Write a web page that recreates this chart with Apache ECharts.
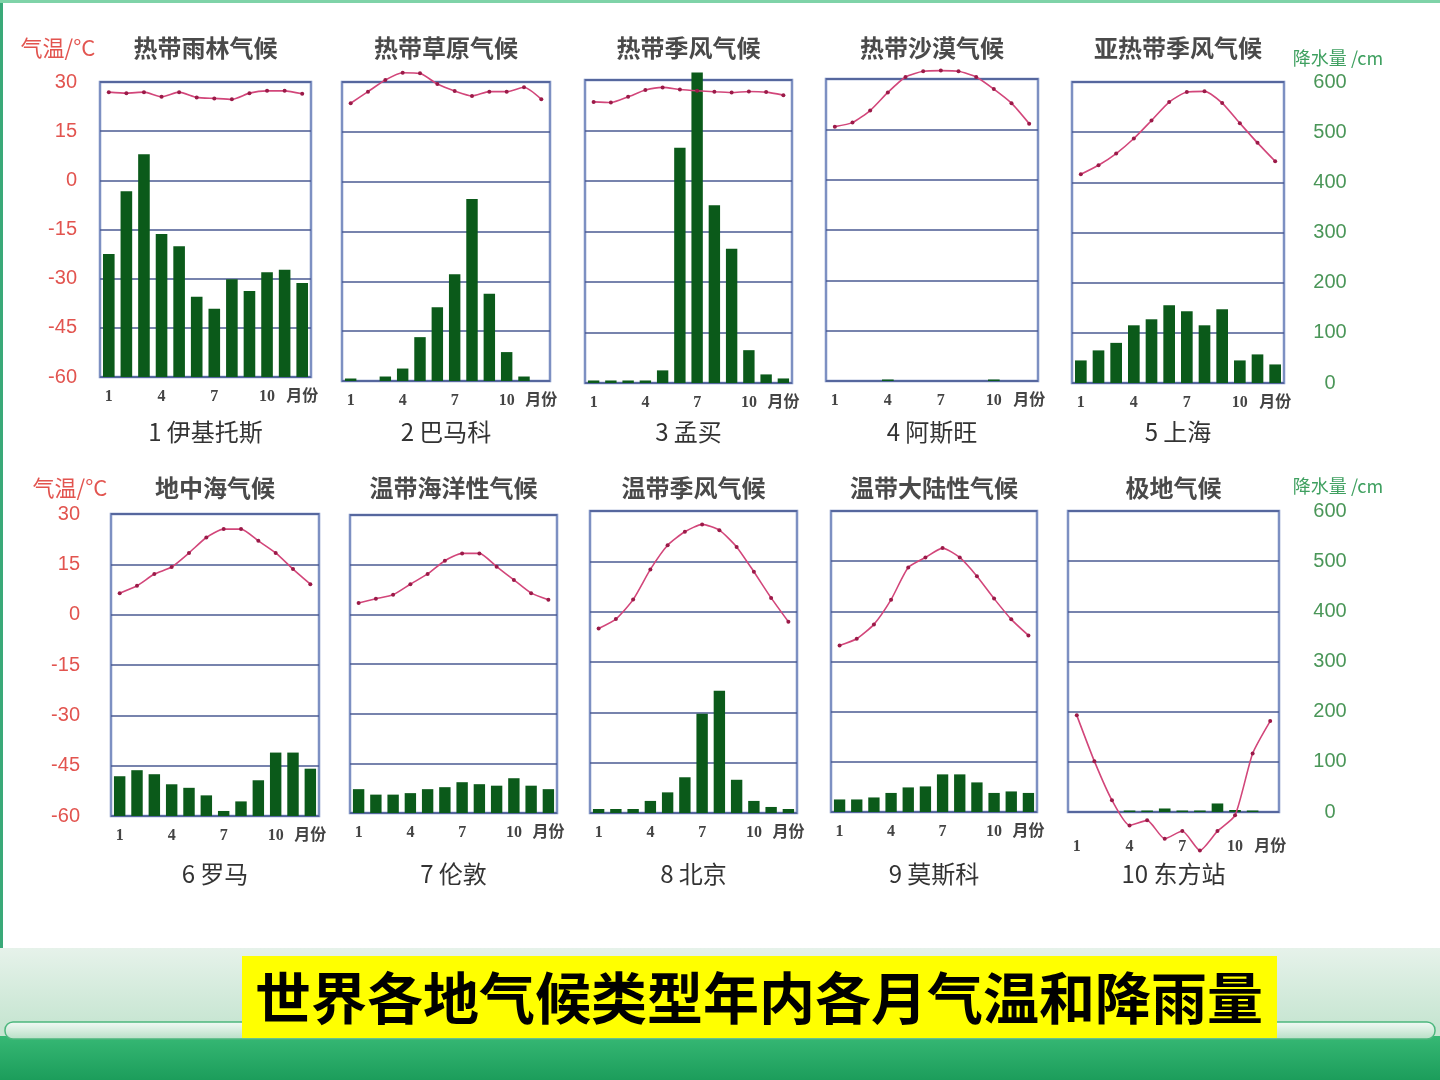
<!DOCTYPE html>
<html>
<head>
<meta charset="utf-8">
<script src="https://cdn.jsdelivr.net/npm/echarts@6/dist/echarts.min.js"></script>
<style>
  html, body { margin: 0; padding: 0; background: #fff; }
  #main { width: 1440px; height: 1080px; }
</style>
</head>
<body>
<div id="main"></div>
<script>
// 月份刻度
const months = ['1', '', '', '4', '', '', '7', '', '', '10', '', '月份'];

const climateTypes = ['热带雨林气候', '热带草原气候', '热带季风气候', '热带沙漠气候', '亚热带季风气候',
  '地中海气候', '温带海洋性气候', '温带季风气候', '温带大陆性气候', '极地气候'];
const stations = ['1 伊基托斯', '2 巴马科', '3 孟买', '4 阿斯旺', '5 上海',
  '6 罗马', '7 伦敦', '8 北京', '9 莫斯科', '10 东方站'];

// 气温 °C
const iquitosTemp = [26.9, 26.6, 26.9, 25.5, 26.9, 25.3, 25.0, 24.7, 26.6, 27.3, 27.3, 26.4];
const bamakoTemp = [23.6, 27.1, 30.6, 32.8, 32.6, 29.4, 27.3, 25.8, 27.1, 27.1, 28.4, 24.8];
const mumbaiTemp = [23.5, 23.3, 25.0, 27.0, 27.8, 27.2, 26.8, 26.5, 26.3, 26.6, 26.4, 25.5];
const aswanTemp = [15.8, 17.0, 20.6, 26.0, 30.6, 32.3, 32.5, 32.3, 30.6, 27.0, 22.8, 16.7];
const shanghaiTemp = [2.4, 5.1, 8.6, 13.1, 18.5, 24.0, 27.0, 27.2, 23.7, 17.7, 11.8, 6.3];
const romeTemp = [6.4, 8.6, 12.1, 14.2, 18.4, 23.0, 25.5, 25.5, 22.0, 18.4, 13.6, 9.1];
const londonTemp = [3.4, 4.7, 5.9, 9.1, 12.2, 16.2, 18.4, 18.4, 14.4, 10.4, 6.4, 4.4];
const beijingTemp = [-5.0, -2.2, 3.6, 12.6, 19.8, 23.8, 26.0, 24.3, 19.3, 11.9, 4.1, -3.0];
const moscowTemp = [-10.2, -8.2, -3.9, 3.5, 13.1, 16.1, 18.9, 16.1, 10.5, 3.8, -2.4, -7.2];
const vostokTemp = [-31.1, -44.8, -56.5, -64.0, -62.5, -68.0, -65.7, -71.5, -65.7, -61.0, -42.5, -32.8];

// 降水量
const iquitosRain = [250, 378, 453, 291, 266, 163, 139, 199, 175, 213, 218, 191];
const bamakoRain = [5, 0, 9, 25, 88, 148, 214, 365, 175, 58, 9, 0];
const mumbaiRain = [5, 5, 5, 5, 25, 466, 615, 352, 266, 65, 17, 9];
const aswanRain = [0, 0, 0, 3, 0, 0, 0, 0, 0, 3, 0, 0];
const shanghaiRain = [45, 65, 80, 115, 127, 155, 143, 115, 147, 45, 57, 37];
const romeRain = [79, 91, 83, 63, 56, 41, 10, 29, 71, 126, 126, 94];
const londonRain = [48, 37, 37, 40, 48, 52, 62, 58, 55, 70, 55, 48];
const beijingRain = [8, 8, 8, 24, 41, 71, 197, 243, 66, 24, 12, 8];
const moscowRain = [25, 25, 29, 38, 49, 51, 75, 75, 59, 38, 41, 38];
const vostokRain = [0, 0, 0, 3, 3, 7, 3, 3, 17, 4, 3, 0];

const temps = [iquitosTemp, bamakoTemp, mumbaiTemp, aswanTemp, shanghaiTemp,
  romeTemp, londonTemp, beijingTemp, moscowTemp, vostokTemp];
const rains = [iquitosRain, bamakoRain, mumbaiRain, aswanRain, shanghaiRain,
  romeRain, londonRain, beijingRain, moscowRain, vostokRain];

// 每个小图的位置 [left, top, width, height]
const boxes = [
  [100, 82, 211, 295], [342, 82, 208, 299], [585, 80, 207, 303], [826, 79, 212, 302], [1072, 82, 212, 301],
  [111, 514, 208, 302], [350, 515, 207, 298], [590, 511, 207, 302], [831, 511, 206, 301], [1068, 511, 211, 301]
];

const CJK = "'Noto Sans CJK SC', sans-serif";
const grid = [], xAxis = [], yAxis = [], series = [], graphic = [];

function txt(x, y, text, size, color, weight) {
  graphic.push({
    type: 'text', x: x, y: y, z: 10,
    style: {
      text: text, fill: color, fontSize: size, fontFamily: CJK, fontWeight: weight || 'normal',
      textAlign: 'center', textVerticalAlign: 'middle', align: 'center', verticalAlign: 'middle'
    }
  });
}

boxes.forEach(function (b, i) {
  grid.push({
    left: b[0], top: b[1], width: b[2], height: b[3], show: true,
    backgroundColor: '#fff', borderColor: '#7d90c2', borderWidth: 2.5, outerBoundsMode: 'none'
  });
  xAxis.push({
    type: 'category', gridIndex: i, data: months,
    axisLine: { show: false }, axisTick: { show: false },
    axisLabel: {
      interval: 0, margin: i === 9 ? 27 : 12, color: '#444', fontSize: 16, fontWeight: 'bold',
      fontFamily: "'Liberation Serif', 'Noto Sans CJK SC', serif"
    }
  });
  yAxis.push({
    type: 'value', gridIndex: i, min: -60, max: 30, interval: 15,
    axisLine: { show: false }, axisTick: { show: false },
    splitLine: { lineStyle: { color: '#4a5a92', width: 1.6 } },
    axisLabel: {
      show: i === 0 || i === 5, margin: i === 0 ? 23 : 31, color: '#e2544f', fontSize: 20,
      fontFamily: "'Liberation Sans', sans-serif"
    }
  });
  yAxis.push({
    type: 'value', gridIndex: i, position: 'right', min: 0, max: 600, interval: 100,
    axisLine: { show: false }, axisTick: { show: false }, splitLine: { show: false },
    axisLabel: {
      show: i === 4 || i === 9, margin: i === 4 ? 46 : 51, align: 'center', color: '#4a9658', fontSize: 20,
      padding: [10, 0, 0, 0], fontFamily: "'Liberation Sans', sans-serif"
    }
  });
  series.push({
    type: 'bar', xAxisIndex: i, yAxisIndex: 2 * i + 1, data: rains[i], barWidth: '66%', clip: false,
    itemStyle: { color: '#0b5a1a' }
  });
  series.push({
    type: 'line', xAxisIndex: i, yAxisIndex: 2 * i, data: temps[i], clip: false, smooth: 0.2,
    symbol: 'circle', symbolSize: 4, z: 5,
    lineStyle: { color: '#d2467a', width: 1.6 }, itemStyle: { color: '#9b1a48' }
  });

  const cx = b[0] + b[2] / 2;
  txt(cx, i < 5 ? 48 : 488, climateTypes[i], 24, '#4a4a4a', 'bold');
  txt(cx, i < 5 ? 432 : 874, stations[i], 24, '#333');
});

// 轴标题
txt(58, 48, '气温/°C', 22, '#e2544f');
txt(70, 488, '气温/°C', 22, '#e2544f');
txt(1338, 58, '降水量 /cm', 18, '#3fa060');
txt(1338, 486, '降水量 /cm', 18, '#3fa060');

// 边框和底部装饰
graphic.push(
  { type: 'rect', shape: { x: 0, y: 0, width: 3, height: 948 }, style: { fill: '#3aa978' }, z: 1 },
  { type: 'rect', shape: { x: 0, y: 0, width: 1440, height: 3 }, style: { fill: '#7fd3a8' }, z: 1 },
  {
    type: 'rect', shape: { x: 0, y: 948, width: 1440, height: 132 }, z: 1,
    style: { fill: new echarts.graphic.LinearGradient(0, 0, 0, 1, [
      { offset: 0, color: '#e6f2ea' }, { offset: 0.6, color: '#c6e5d1' }, { offset: 1, color: '#c6e5d1' }]) }
  },
  {
    type: 'rect', shape: { x: 0, y: 1036, width: 1440, height: 44 }, z: 2,
    style: { fill: new echarts.graphic.LinearGradient(0, 0, 0, 1, [
      { offset: 0, color: '#36b874' }, { offset: 1, color: '#1c9d5b' }]) }
  },
  {
    type: 'rect', shape: { x: 5, y: 1022, width: 1430, height: 17, r: 8 }, z: 3,
    style: {
      fill: new echarts.graphic.LinearGradient(0, 0, 0, 1, [
        { offset: 0, color: '#f4fbf7' }, { offset: 1, color: '#b6dec5' }]),
      stroke: '#4cb77e', lineWidth: 1.5
    }
  },
  { type: 'rect', shape: { x: 242, y: 956, width: 1035, height: 82 }, style: { fill: '#ffff00' }, z: 4 }
);
txt(759, 998, '世界各地气候类型年内各月气温和降雨量', 56, '#000', 'bold');

const chart = echarts.init(document.getElementById('main'), null, { renderer: 'canvas' });
chart.setOption({
  backgroundColor: '#fff',
  animation: false,
  grid: grid,
  xAxis: xAxis,
  yAxis: yAxis,
  series: series,
  graphic: graphic
});
</script>
</body>
</html>
